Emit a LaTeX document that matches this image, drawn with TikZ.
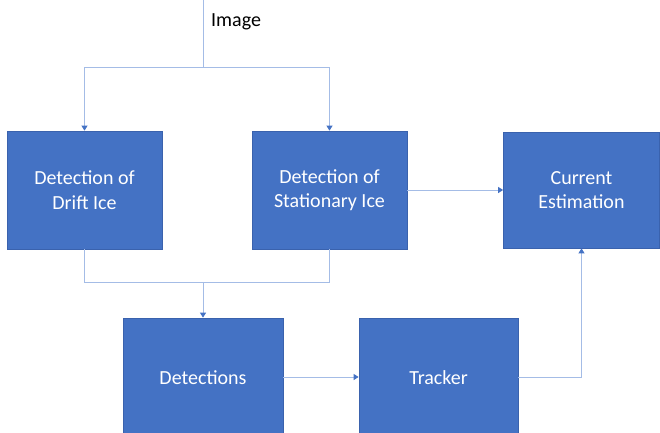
\documentclass[tikz,border=0pt]{standalone}
\usepackage{fontspec}
\setmainfont{Carlito}
\usetikzlibrary{arrows.meta}
\definecolor{boxblue}{HTML}{4472C4}
\definecolor{boxedge}{HTML}{3A62AD}
\definecolor{linkblue}{HTML}{A4BCE6}
\definecolor{tipblue}{HTML}{4472C4}
\tikzset{
  blockbox/.style={draw=boxedge, line width=0.75pt, fill=boxblue, text=white,
    align=center, font=\fontsize{20}{24.5}\selectfont, inner sep=0pt},
  link/.style={draw=linkblue, line width=1pt},
  arrowlink/.style={link, -{Triangle[width=6pt,length=5pt,fill=tipblue,color=tipblue]}},
}
\begin{document}
\begin{tikzpicture}[x=1pt,y=-1pt]
\useasboundingbox (0,0) rectangle (660,432);
\clip (0,0) rectangle (660,432);
\node[blockbox, minimum width=155pt, minimum height=118pt] (drift) at (84.5,190) {Detection of\\Drift Ice};
\node[blockbox, minimum width=155pt, minimum height=118pt] (stat) at (329.5,190) {Detection of\\Stationary Ice};
\node[blockbox, minimum width=156pt, minimum height=116pt] (curr) at (581.5,190) {Current\\Estimation};
\node[blockbox, minimum width=160pt, minimum height=120pt] (det) at (203,378) {Detections};
\node[blockbox, minimum width=159pt, minimum height=120pt] (trk) at (438.5,378) {Tracker};
\node[font=\fontsize{20}{24}\selectfont, anchor=west, inner sep=0pt] (img) at (211,22) {Image};
\coordinate (imgtop) at (203,0);
\coordinate (split) at (203,67);
\coordinate (merge) at (203,282);
\draw[link] (imgtop) -- (split);
\draw[arrowlink] (split) -| (drift.north);
\draw[arrowlink] (split) -| (stat.north);
\draw[arrowlink] (stat.east) -- (curr.west);
\draw[link] (drift.south) |- (merge);
\draw[link] (stat.south) |- (merge);
\draw[arrowlink] (merge) -- (det.north);
\draw[arrowlink] (det.east |- 0,377) -- (trk.west |- 0,377);
\draw[arrowlink] (trk.east |- 0,377) -| (curr.south);
\end{tikzpicture}
\end{document}
